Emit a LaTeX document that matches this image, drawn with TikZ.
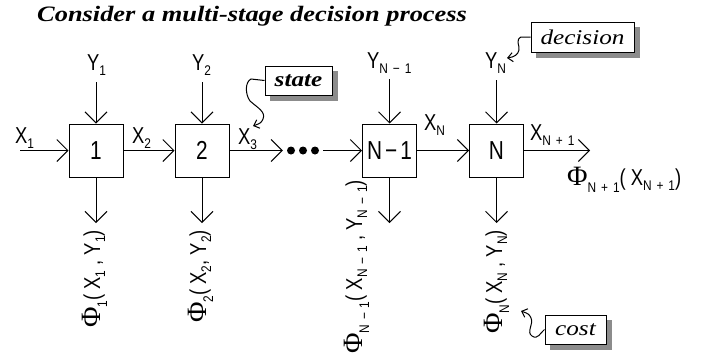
\documentclass[tikz,border=0pt]{standalone}
\usepackage{fontspec}
\usetikzlibrary{arrows.meta,calc,backgrounds}
\newfontfamily\labfont[FakeStretch=0.8]{Liberation Sans}
\newfontfamily\subfont[FakeStretch=0.85,LetterSpace=35]{Liberation Sans}
\newfontfamily\phifont{Liberation Serif}
\newfontfamily\notefont[FakeStretch=1.2]{Liberation Serif}
% subscripts for the variables and for the cost functions
\newcommand\sub[1]{\raisebox{-5pt}{\subfont\fontsize{14}{14}\selectfont#1}}
\newcommand\psub[1]{\raisebox{-7pt}{\subfont\fontsize{14}{14}\selectfont#1}}
\newcommand\Ph{{\phifont\fontsize{28}{28}\selectfont Φ}}
\begin{document}
\begin{tikzpicture}[x=1pt,y=-1pt,
  lab/.style={font=\labfont\fontsize{23}{23}\selectfont, inner sep=0pt},
  stage/.style={draw, line width=1pt, minimum width=54pt, minimum height=53pt,
    inner sep=0pt, font=\labfont\fontsize{26}{26}\selectfont},
  arr/.style={line width=1pt, -{Straight Barb[length=11pt,width=22pt,line width=1pt]}},
  note/.style={draw, line width=1pt, fill=white, inner sep=0pt,
    font=\notefont\fontsize{21}{21}\selectfont\itshape},
  wig/.style={line width=1pt, -{Straight Barb[length=5pt,width=9pt,line width=1pt]}},
  shade/.style={fill=black!45}]
\useasboundingbox (0,0) rectangle (702,362);

% title
\node[anchor=base west, inner sep=0pt,
  font=\notefont\fontsize{22}{22}\selectfont\bfseries\itshape] (title) at (37,21)
  {Consider a multi-stage decision process};

% stages
\node[stage] (b1)  at (96,150.5)  {1};
\node[stage] (b2)  at (202,150.5) {2};
\node[stage] (bn1) at (389.5,150.5) {N\kern3pt−\kern3pt1};
\node[stage] (bn)  at (496.5,150.5) {N};

% the omitted stages
\node[minimum width=40pt, minimum height=8pt, inner sep=0pt] (dots) at (303,150.5) {};
\foreach \d in {-12,0,12} \fill ([xshift=\d pt]dots.center) circle (4pt);

% state labels
\node[lab, anchor=base west] (lx1)  at (15,143)  {X\sub{1}};
\node[lab, anchor=base west] (lx2)  at (132,143) {X\sub{2}};
\node[lab, anchor=base west] (lx3)  at (238,144) {X\sub{3}};
\node[lab, anchor=base west] (lxn)  at (424,130) {X\sub{N}};
\node[lab, anchor=base west] (lxn1) at (530,140) {X\sub{N+1}};

% decision labels
\node[lab, anchor=base west] (ly1)  at (87,70)  {Y\sub{1}};
\node[lab, anchor=base west] (ly2)  at (192,70) {Y\sub{2}};
\node[lab, anchor=base west] (lyn1) at (367,68) {Y\sub{N−1}};
\node[lab, anchor=base west] (lyn)  at (485,68) {Y\sub{N}};

% stage costs
\node[lab, rotate=90, anchor=base east] (p1)  at (100,230) {\Ph\psub{1}( X\sub{1} , Y\sub{1})};
\node[lab, rotate=90, anchor=base east] (p2)  at (206,230) {\Ph\psub{2}( X\sub{2}, Y\sub{2})};
\node[lab, rotate=90, anchor=base east] (pn1) at (362,180) {\Ph\psub{N−1}( X\sub{N−1} , Y\sub{N−1})};
\node[lab, rotate=90, anchor=base east] (pn)  at (502,230) {\Ph\psub{N}( X\sub{N} , Y\sub{N})};
\node[lab, anchor=base west] (pout) at (567,185) {\Ph\psub{N+1}( X\sub{N+1})};

% state flow
\coordinate (xin)  at (20,150.5);
\coordinate (xout) at (590,150.5);
\draw[arr] (xin) -- (b1.west);
\draw[arr] (b1.east) -- (b2.west);
\draw[arr] (b2.east) -- (dots.west);
\draw[arr] (dots.east) -- (bn1.west);
\draw[arr] (bn1.east) -- (bn.west);
\draw[arr] (bn.east) -- (xout);

% decisions in
\draw[arr] ($(b1.north |- ly1.south)+(0,7)$) -- (b1.north);
\draw[arr] ($(b2.north |- ly2.south)+(0,7)$) -- (b2.north);
\draw[arr] ($(bn1.north |- lyn1.south)+(0,6)$) -- (bn1.north);
\draw[arr] ($(bn.north |- lyn.south)+(0,7)$) -- (bn.north);

% costs out
\coordinate (d1)  at (96,223);
\coordinate (d2)  at (202,223);
\coordinate (dn1) at (389.5,223);
\coordinate (dn)  at (496.5,223);
\draw[arr] (b1.south) -- (d1);
\draw[arr] (b2.south) -- (d2);
\draw[arr] (bn1.south) -- (dn1);
\draw[arr] (bn.south) -- (dn);

% callouts with their drop shadows
\node[note, font=\notefont\fontsize{21}{21}\selectfont\bfseries\itshape,
  minimum width=67pt, minimum height=29pt] (st) at (298.5,80.5) {state};
\node[note, minimum width=103pt, minimum height=30pt] (dc) at (582.5,37) {decision};
\node[note, minimum width=61pt, minimum height=29pt] (co) at (575.5,329.5) {cost};
\begin{scope}[on background layer]
  \foreach \n in {st,dc,co}
    \fill[shade] ([shift={(5,5)}]\n.south west) rectangle ([shift={(5,5)}]\n.north east);
\end{scope}

\coordinate (stip) at (253,126);
\coordinate (dtip) at (507,58);
\coordinate (ctip) at (521,311);
\draw[wig] (st.west) -- (251,79) .. controls (245,82) and (245,94) .. (250,101)
  .. controls (258,108) and (266,112) .. (263,119) .. controls (261,123) .. (stip);
\draw[wig] (dc.west) -- (521,37) .. controls (515,40) and (520,46) .. (519,50)
  .. controls (518,55) and (514,57) .. (dtip);
\draw[wig] (co.west) .. controls (540,333) and (538,340) .. (532,336)
  .. controls (526,332) and (534,324) .. (531,318) .. controls (529,314) .. (ctip);
\end{tikzpicture}
\end{document}
